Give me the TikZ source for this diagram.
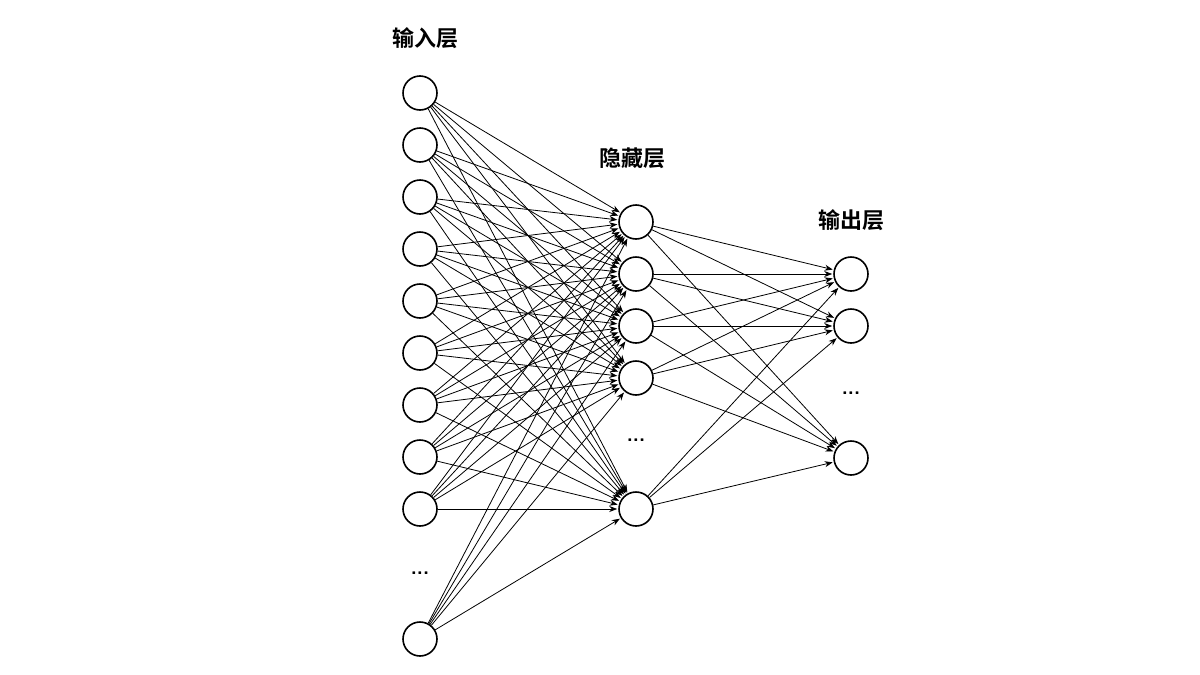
\documentclass[tikz,border=0pt]{standalone}
\usepackage{fontspec}
\newfontfamily\cjk{Noto Sans CJK SC}[BoldFont={Noto Sans CJK SC Bold}]
\usetikzlibrary{arrows.meta}
\begin{document}
\begin{tikzpicture}[x=0.5pt,y=-0.5pt,
  neuron/.style={circle,draw,line width=0.8pt,minimum size=17pt,inner sep=0pt,fill=white},
  conn/.style={-{Stealth[length=4pt,width=3pt]},line width=0.4pt,shorten >=0.5pt},
  lab/.style={font=\cjk\bfseries\fontsize{11pt}{13pt}\selectfont},
  dots/.style={font=\sffamily\bfseries\fontsize{10pt}{12pt}\selectfont}]
\useasboundingbox (0,0) rectangle (1200,675);
\foreach \y [count=\i] in {93,145,197,249,301,353,405,457,509,639}
  \node[neuron] (i\i) at (420,\y) {};
\foreach \y [count=\i] in {222,274,326,378,509}
  \node[neuron] (h\i) at (636,\y) {};
\foreach \y [count=\i] in {274,326,458}
  \node[neuron] (o\i) at (851,\y) {};
\begin{scope}[on background layer/.try]
\foreach \i in {1,...,10}
  \foreach \j in {1,...,5}
    \draw[conn] (i\i) -- (h\j);
\foreach \j in {1,...,5}
  \foreach \k in {1,...,3}
    \draw[conn] (h\j) -- (o\k);
\end{scope}
\node[dots] (d1) at (420,573) {...};
\node[dots] (d2) at (636,440) {...};
\node[dots] (d3) at (851,393) {...};
\node[lab] (l1) at (425,38) {输入层};
\node[lab] (l2) at (632,158) {隐藏层};
\node[lab] (l3) at (851,220) {输出层};
\end{tikzpicture}
\end{document}
